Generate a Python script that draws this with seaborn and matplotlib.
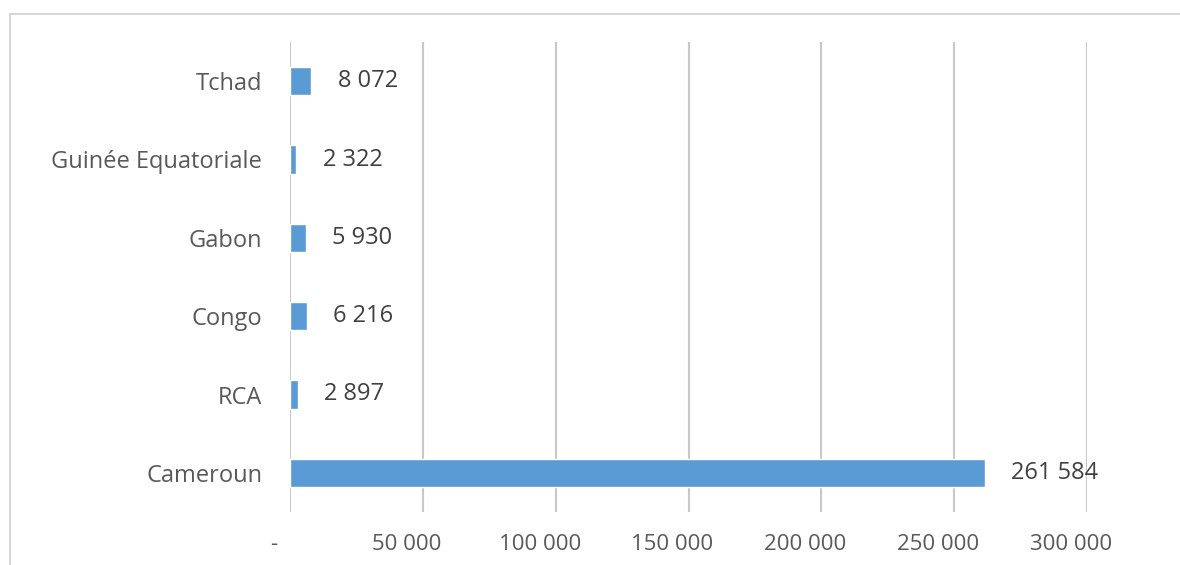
import matplotlib.pyplot as plt
import matplotlib.transforms as mtransforms
import pandas as pd
import seaborn as sns
from matplotlib.patches import Rectangle

sns.set_style("white")
plt.rcParams["font.family"] = ["Open Sans", "DejaVu Sans"]

pays = ["Tchad", "Guinée Equatoriale", "Gabon", "Congo", "RCA", "Cameroun"]
valeurs = [8072, 2322, 5930, 6216, 2897, 261584]
graduations = [0, 50000, 100000, 150000, 200000, 250000, 300000]


def fmt(v):
    if v == 0:
        return "-"
    return f"{v:,}".replace(",", " ")


df = pd.DataFrame({"Pays": pays, "Valeur": valeurs})

fig = plt.figure(figsize=(11.8, 5.65), dpi=100)
ax = fig.add_axes([290 / 1180, 1 - 512 / 565, 797 / 1180, 470 / 565])

# cadre du graphique
fig.patches.append(
    Rectangle((10 / 1180, -0.1), 1.2, 1 - 14 / 565 + 0.1,
              transform=fig.transFigure, fill=False,
              edgecolor="#d0d0d0", linewidth=1.2)
)

sns.barplot(data=df, x="Valeur", y="Pays", color="#5b9bd5",
            width=0.36, ax=ax, saturation=1)

ax.set_xlim(0, 300000)
ax.set_ylim(5.5, -0.5)
ax.set_xticks(graduations)
ax.set_xticklabels([fmt(v) for v in graduations])
ax.grid(axis="x", color="#c8c8c8", linewidth=1.5)
ax.set_axisbelow(True)
for s in ax.spines.values():
    s.set_visible(False)
ax.tick_params(axis="both", length=0, labelcolor="#595959")
ax.tick_params(axis="x", pad=16, labelsize=16)
ax.tick_params(axis="y", pad=20, labelsize=17)
ax.set_xlabel("")
ax.set_ylabel("")

# les étiquettes de l'axe x sont décalées vers la gauche
decalage = mtransforms.ScaledTranslation(-16 / 100, 0, fig.dpi_scale_trans)
for lbl in ax.get_xticklabels():
    lbl.set_transform(lbl.get_transform() + decalage)

for i, v in enumerate(valeurs):
    ax.annotate(fmt(v), (v, i), xytext=(19, 0), textcoords="offset points",
                va="center", ha="left", fontsize=17, color="#404040")

fig.savefig("out.png", dpi=100)
